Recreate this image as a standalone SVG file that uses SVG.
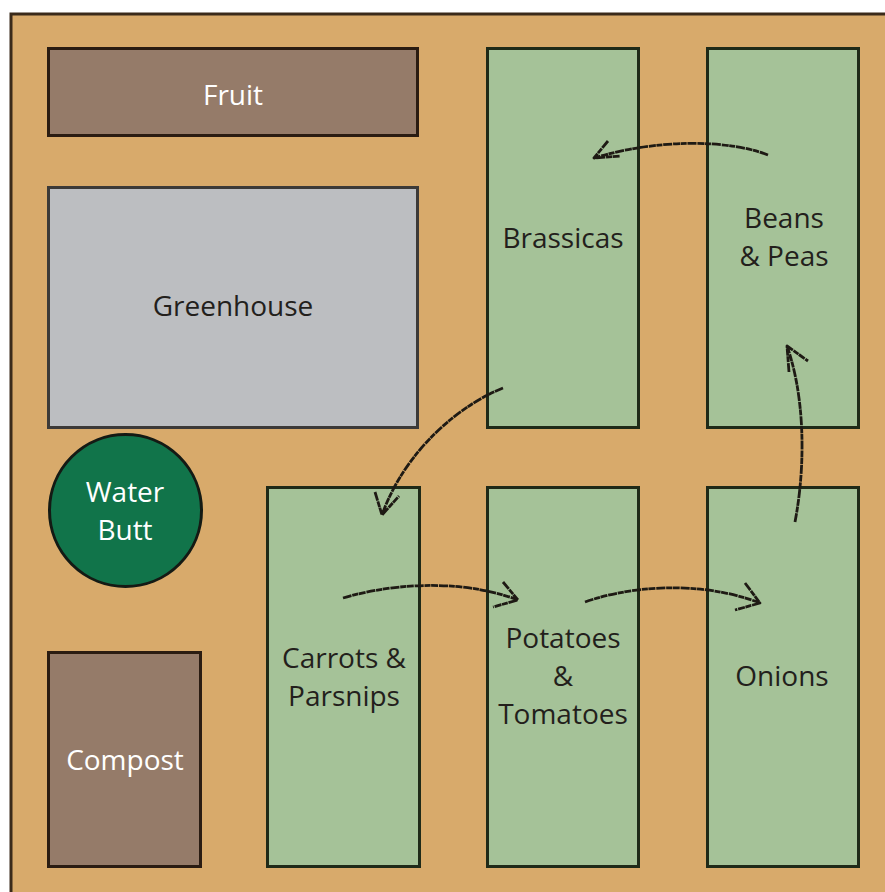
<svg xmlns="http://www.w3.org/2000/svg" width="885" height="892" viewBox="0 0 885 892">
<style>
.bed{fill:#A5C298;stroke:#1f2a18;stroke-width:3}
.brown{fill:#957B69;stroke:#2a1c12;stroke-width:3}
.lbl{font-family:"Open Sans","Noto Sans",sans-serif;font-size:28px;text-anchor:middle}
.dk{fill:#231f1c}
.wt{fill:#ffffff}
.arr{fill:none;stroke:#1e1a14;stroke-width:2.8;stroke-linecap:butt;stroke-linejoin:round;stroke-dasharray:9 0.8 6 0.6 7 0.9}
</style>
<rect width="885" height="892" fill="#ffffff"/>
<rect x="11" y="14" width="890" height="890" fill="#D8AA6B" stroke="#3a2a1a" stroke-width="3"/>
<g id="fruit">
<rect class="brown" x="48.5" y="48.5" width="369" height="87"/>
<text class="lbl wt" x="233" y="105">Fruit</text>
</g>
<g id="greenhouse">
<rect x="48.5" y="187.5" width="369" height="240" fill="#BCBEC1" stroke="#3c3a38" stroke-width="3"/>
<text class="lbl dk" x="233" y="316">Greenhouse</text>
</g>
<g id="brassicas">
<rect class="bed" x="487.5" y="48.5" width="151" height="379"/>
<text class="lbl dk" x="563" y="248">Brassicas</text>
</g>
<g id="beans">
<rect class="bed" x="707.5" y="48.5" width="151" height="379"/>
<text class="lbl dk" x="784" y="228">Beans</text>
<text class="lbl dk" x="784" y="266">&amp; Peas</text>
</g>
<g id="water-butt">
<circle cx="125.5" cy="510.5" r="76" fill="#11744A" stroke="#141a14" stroke-width="3"/>
<text class="lbl wt" x="125" y="502">Water</text>
<text class="lbl wt" x="125" y="540">Butt</text>
</g>
<g id="carrots">
<rect class="bed" x="267.5" y="487.5" width="152" height="379"/>
<text class="lbl dk" x="344" y="668">Carrots &amp;</text>
<text class="lbl dk" x="344" y="706">Parsnips</text>
</g>
<g id="potatoes">
<rect class="bed" x="487.5" y="487.5" width="151" height="379"/>
<text class="lbl dk" x="563" y="648">Potatoes</text>
<text class="lbl dk" x="563" y="686">&amp;</text>
<text class="lbl dk" x="563" y="724">Tomatoes</text>
</g>
<g id="onions">
<rect class="bed" x="707.5" y="487.5" width="151" height="379"/>
<text class="lbl dk" x="782" y="686">Onions</text>
</g>
<g id="compost">
<rect class="brown" x="48.5" y="652.5" width="152" height="214"/>
<text class="lbl wt" x="125" y="770">Compost</text>
</g>
<g id="connectors">
<path class="arr" d="M768,155 C730,140 660,138 594,158 M608,141 L594,158 L620,156"/>
<path class="arr" d="M503,388 C460,405 405,450 382,515 M375,492 L382,515 L399,496"/>
<path class="arr" d="M343,598 C390,584 460,578 518,600 M503,582 L518,600 L493,607"/>
<path class="arr" d="M585,602 C630,586 700,580 760,603 M745,583 L760,603 L735,610"/>
<path class="arr" d="M795,522 C805,470 806,400 787,346 M789,372 L787,346 L808,361"/>
</g>
</svg>
